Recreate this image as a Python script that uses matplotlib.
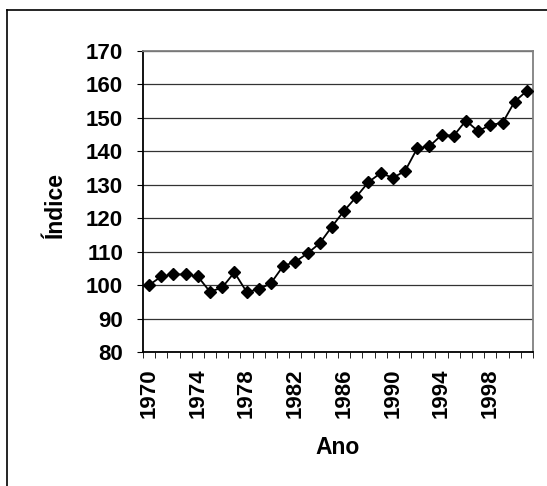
import matplotlib
matplotlib.use("Agg")
import matplotlib.pyplot as plt
from matplotlib.lines import Line2D

plt.rcParams['font.family'] = ['Liberation Sans', 'DejaVu Sans']

# dados
anos = list(range(1970, 2002))
indice = [100.0, 102.6, 103.2, 103.2, 102.6, 98.0, 99.3, 103.8, 98.0, 98.7,
          100.6, 105.7, 107.0, 109.5, 112.5, 117.5, 122.2, 126.4, 130.8, 133.5,
          132.1, 134.1, 140.9, 141.5, 144.9, 144.7, 149.2, 146.0, 147.9, 148.5,
          154.9, 158.1]
rotulos_x = [str(a) if (a - 1970) % 4 == 0 else '' for a in anos]
ticks_y = list(range(80, 171, 10))

fig = plt.figure(figsize=(5.47, 4.86), dpi=100)
ax = fig.add_axes([0.2614, 0.2757, 0.7130, 0.6193])

pos = list(range(len(anos)))
ax.plot(pos, indice, color='black', lw=1.3, marker='D', markersize=6,
        markerfacecolor='black', markeredgecolor='black', zorder=3)

ax.set_xlim(-0.5, len(anos) - 0.5)
ax.set_ylim(80, 170)
ax.set_yticks(ticks_y)
ax.set_yticklabels([str(t) for t in ticks_y], fontsize=16, fontweight='bold')
ax.set_xticks(pos)
ax.set_xticklabels(rotulos_x, rotation=90, fontsize=16, fontweight='bold')
ax.tick_params(axis='x', length=0, pad=12)
ax.set_xticks([p - 0.5 for p in range(len(anos) + 1)], minor=True)
ax.tick_params(axis='x', which='minor', length=4.3, direction='out', color='black')
ax.tick_params(axis='y', length=4.3, direction='out', color='black', pad=10)

ax.grid(axis='y', color='#333333', lw=0.9)
ax.set_axisbelow(True)
for s in ['top', 'right']:
    ax.spines[s].set_color('#808080')
    ax.spines[s].set_linewidth(1.3)
for s in ['left', 'bottom']:
    ax.spines[s].set_color('black')
    ax.spines[s].set_linewidth(1.3)

ax.set_ylabel('Índice', fontsize=16.5, fontweight='bold')
ax.yaxis.set_label_coords(-0.195, 0.49)
ax.set_xlabel('Ano', fontsize=16.5, fontweight='bold')
ax.xaxis.set_label_coords(0.5, -0.28)

# moldura externa
fig.add_artist(Line2D([7 / 547, 7 / 547], [0, 1 - 10 / 486], color='black', lw=1.2))
fig.add_artist(Line2D([7 / 547, 1], [1 - 10 / 486, 1 - 10 / 486], color='black', lw=1.2))

fig.savefig('out.png', dpi=100)
